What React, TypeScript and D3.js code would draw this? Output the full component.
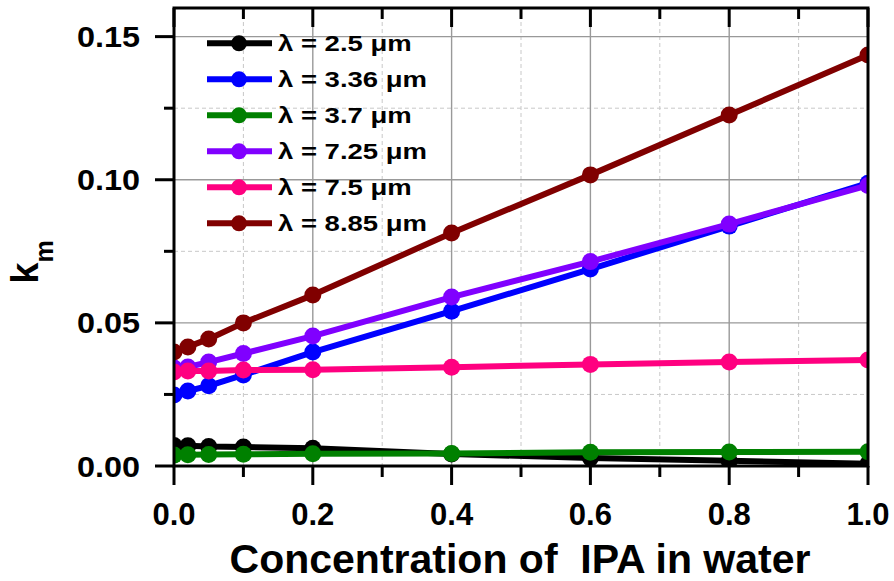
import React from "react";
import * as d3 from "d3";

// IPA concentration (volume fraction) at which k_m was evaluated
const concentration = [0, 0.02, 0.05, 0.1, 0.2, 0.4, 0.6, 0.8, 1.0];

const seriesNames = ["λ = 2.5 μm", "λ = 3.36 μm", "λ = 3.7 μm", "λ = 7.25 μm", "λ = 7.5 μm", "λ = 8.85 μm"];
const seriesColors = ["#000000", "#0000ff", "#008000", "#8000ff", "#ff0080", "#800000"];

const k25 = [0.0072, 0.0071, 0.0068, 0.0066, 0.0062, 0.0042, 0.0028, 0.0018, 0.0008];
const k336 = [0.0248, 0.0262, 0.028, 0.0318, 0.0398, 0.0541, 0.0688, 0.0838, 0.0988];
const k37 = [0.0038, 0.0039, 0.004, 0.0041, 0.0043, 0.0044, 0.0048, 0.0049, 0.005];
const k725 = [0.0342, 0.0346, 0.0363, 0.0393, 0.0454, 0.059, 0.0714, 0.0845, 0.098];
const k75 = [0.0328, 0.0332, 0.0332, 0.0335, 0.0336, 0.0345, 0.0355, 0.0363, 0.037];
const k885 = [0.0398, 0.0416, 0.0444, 0.05, 0.0597, 0.0814, 0.1017, 0.1226, 0.1436];

const seriesValues = [k25, k336, k37, k725, k75, k885];

const xMajorTicks = [0, 0.2, 0.4, 0.6, 0.8, 1.0];
const xMinorTicks = [0.1, 0.3, 0.5, 0.7, 0.9];
const yMajorTicks = [0, 0.05, 0.1, 0.15];
const yMinorTicks = [0.025, 0.075, 0.125];

const W = 894;
const H = 581;
const left = 174;
const right = 868;
const top = 8;
const bottom = 466;

const FONT = "'Liberation Sans', Arial, Helvetica, sans-serif";

export default function App() {
  const x = d3.scaleLinear().domain([0, 1]).range([left, right]);
  const y = d3.scaleLinear().domain([0, 0.16]).range([bottom, top]);
  const line = d3
    .line<[number, number]>()
    .x((d) => x(d[0]))
    .y((d) => y(d[1]));

  return (
    <svg
      width={W}
      height={H}
      style={{ position: "absolute", left: 0, top: 0, background: "#fff" }}
      fontFamily={FONT}
      fontWeight="bold"
    >
      <defs>
        <clipPath id="plotClip">
          <rect x={left} y={top} width={right - left} height={bottom - top} />
        </clipPath>
      </defs>
      <rect x={0} y={0} width={W} height={H} fill="#fff" />

      {/* minor grid */}
      {xMinorTicks.map((t) => (
        <line key={"gxm" + t} x1={x(t)} x2={x(t)} y1={top} y2={bottom} stroke="#c8c8c8" strokeWidth={1} strokeDasharray="4,3" />
      ))}
      {yMinorTicks.map((t) => (
        <line key={"gym" + t} x1={left} x2={right} y1={y(t)} y2={y(t)} stroke="#c8c8c8" strokeWidth={1} strokeDasharray="4,3" />
      ))}
      {/* major grid */}
      {xMajorTicks.slice(1, -1).map((t) => (
        <line key={"gx" + t} x1={x(t)} x2={x(t)} y1={top} y2={bottom} stroke="#999" strokeWidth={1.4} />
      ))}
      {yMajorTicks.slice(1).map((t) => (
        <line key={"gy" + t} x1={left} x2={right} y1={y(t)} y2={y(t)} stroke="#999" strokeWidth={1.4} />
      ))}

      {/* data */}
      <g clipPath="url(#plotClip)">
        {seriesValues.map((vals, i) => {
          const pts = concentration.map((c, j) => [c, vals[j]] as [number, number]);
          return (
            <g key={"s" + i}>
              <path d={line(pts) || ""} fill="none" stroke={seriesColors[i]} strokeWidth={6} strokeLinejoin="round" />
              {pts.map((p, j) => (
                <circle key={j} cx={x(p[0])} cy={y(p[1])} r={8.5} fill={seriesColors[i]} />
              ))}
            </g>
          );
        })}
      </g>

      {/* frame */}
      <rect x={left} y={top} width={right - left} height={bottom - top} fill="none" stroke="#000" strokeWidth={3} />

      {/* bottom ticks (outward) and top ticks (inward) */}
      {xMajorTicks.map((t) => (
        <g key={"xt" + t}>
          <line x1={x(t)} x2={x(t)} y1={bottom} y2={bottom + 19} stroke="#000" strokeWidth={3} />
          <line x1={x(t)} x2={x(t)} y1={top} y2={top + 19} stroke="#000" strokeWidth={3} />
          <text x={x(t)} y={525} textAnchor="middle" fontSize={31} fill="#000">
            {d3.format(".1f")(t)}
          </text>
        </g>
      ))}
      {xMinorTicks.map((t) => (
        <g key={"xmt" + t}>
          <line x1={x(t)} x2={x(t)} y1={bottom} y2={bottom + 11} stroke="#000" strokeWidth={3} />
          <line x1={x(t)} x2={x(t)} y1={top} y2={top + 11} stroke="#000" strokeWidth={3} />
        </g>
      ))}

      {/* left ticks (outward) */}
      {yMajorTicks.map((t) => (
        <g key={"yt" + t}>
          <line x1={left - 19} x2={left} y1={y(t)} y2={y(t)} stroke="#000" strokeWidth={3} />
          <text
            x={0}
            y={0}
            transform={`translate(140,${y(t) + 10.5}) scale(1.08,1)`}
            textAnchor="end"
            fontSize={30}
            fill="#000"
          >
            {d3.format(".2f")(t)}
          </text>
        </g>
      ))}
      {yMinorTicks.map((t) => (
        <line key={"ymt" + t} x1={left - 10} x2={left} y1={y(t)} y2={y(t)} stroke="#000" strokeWidth={3} />
      ))}

      {/* axis titles */}
      <text
        x={(left + right) / 2 - 1}
        y={573}
        textAnchor="middle"
        fontSize={41}
        fill="#000"
        style={{ whiteSpace: "pre" }}
      >
        {"Concentration of  IPA in water"}
      </text>
      <text transform="translate(38,262) rotate(-90)" textAnchor="middle" fontSize={38} fill="#000">
        k
        <tspan fontSize={25} dy={15}>m</tspan>
      </text>

      {/* legend */}
      {seriesNames.map((name, i) => {
        const cy = 43.3 + i * 36;
        return (
          <g key={"lg" + i}>
            <line x1={207} x2={272} y1={cy} y2={cy} stroke={seriesColors[i]} strokeWidth={6} />
            <circle cx={239} cy={cy} r={8} fill={seriesColors[i]} />
            <text x={0} y={0} transform={`translate(278,${cy + 8}) scale(1.25,1)`} fontSize={22} fill="#000">
              {name}
            </text>
          </g>
        );
      })}
    </svg>
  );
}
